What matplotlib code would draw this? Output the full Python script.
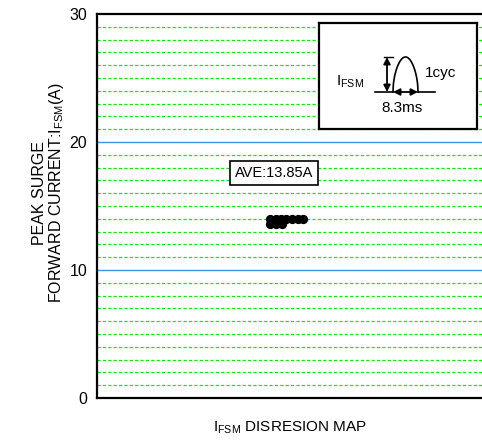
import numpy as np
import matplotlib
matplotlib.use("Agg")
import matplotlib.pyplot as plt
from matplotlib.patches import FancyArrowPatch

plt.rcParams['font.family'] = ['Liberation Sans', 'DejaVu Sans']
plt.rcParams['mathtext.fontset'] = 'custom'
plt.rcParams['mathtext.rm'] = 'Liberation Sans'

# --- data ---
x_top = [0.444, 0.459, 0.473, 0.487, 0.501, 0.516, 0.530]
y_top = [14.0, 14.0, 14.0, 14.0, 14.0, 14.0, 14.0]
x_bot = [0.444, 0.460, 0.475]
y_bot = [13.6, 13.6, 13.6]
average = 13.85
y_ticks = [0, 10, 20, 30]

W, H = 482, 443
fig = plt.figure(figsize=(W / 100, H / 100), dpi=100)
ax = fig.add_axes([97 / W, 1 - 398 / H, (486 - 97) / W, (398 - 14) / H])

ax.set_xlim(0, 1)
ax.set_ylim(0, 30)

# grid
for v in range(1, 30):
    if v % 10 == 0:
        ax.axhline(v, color='#3a96e8', lw=1.0, zorder=1)
    else:
        ax.axhline(v, color='#00ee00', lw=0.9, ls=(0, (2.5, 1.8)), zorder=1)

ax.scatter(x_top, y_top, s=32, color='black', zorder=3)
ax.scatter(x_bot, y_bot, s=32, color='black', zorder=3)

ax.set_yticks(y_ticks)
ax.set_yticklabels([str(t) for t in y_ticks], fontsize=11.5)
ax.tick_params(axis='y', length=0, pad=7)
ax.set_xticks([])
for s in ['left', 'top', 'bottom']:
    ax.spines[s].set_linewidth(1.6)
ax.spines['right'].set_visible(False)

ax.text(0.455, 17.6, f"AVE:{average:.2f}A", fontsize=10.5, ha='center', va='center',
        zorder=4, bbox=dict(boxstyle='square,pad=0.35', fc='white', ec='black', lw=1.2))

fig.text(40 / W, 1 - 193 / H, "PEAK SURGE", rotation=90, fontsize=11.5,
         ha='center', va='center')
fig.text(57 / W, 1 - 193 / H, r"FORWARD CURRENT:I$_{\mathregular{FSM}}$(A)",
         rotation=90, fontsize=11.5, ha='center', va='center')
fig.text(290 / W, 1 - 428 / H, r"I$_{\mathregular{FSM}}$ DISRESION MAP",
         fontsize=11, ha='center', va='center')

# inset waveform box
ins = fig.add_axes([319 / W, 1 - 129 / H, (477 - 319) / W, (129 - 23) / H])
ins.set_xlim(319, 477)
ins.set_ylim(129, 23)
ins.set_xticks([])
ins.set_yticks([])
for s in ins.spines.values():
    s.set_linewidth(1.6)
ins.set_zorder(5)
ins.patch.set_facecolor('white')

t = np.linspace(0, np.pi, 80)
ins.plot([375, 393], [92, 92], color='black', lw=1.2)
ins.plot([418, 435], [92, 92], color='black', lw=1.2)
ins.plot(393 + 25 * t / np.pi, 92 - 35 * np.sin(t) ** 0.5, color='black', lw=1.2)
ins.plot([384, 393], [57, 57], color='black', lw=1.0)
ins.add_patch(FancyArrowPatch((387, 57), (387, 92), arrowstyle='<|-|>',
                              mutation_scale=10, color='black', lw=1.3,
                              shrinkA=0, shrinkB=0))
ins.add_patch(FancyArrowPatch((393, 92), (418, 92), arrowstyle='<|-|>',
                              mutation_scale=10, color='black', lw=1.3,
                              shrinkA=0, shrinkB=0))
ins.text(350, 82, r"I$_{\mathregular{FSM}}$", fontsize=11, ha='center', va='center')
ins.text(441, 73, "1cyc", fontsize=11, ha='center', va='center')
ins.text(402, 108, "8.3ms", fontsize=11, ha='center', va='center')

fig.savefig("out.png", dpi=100)
